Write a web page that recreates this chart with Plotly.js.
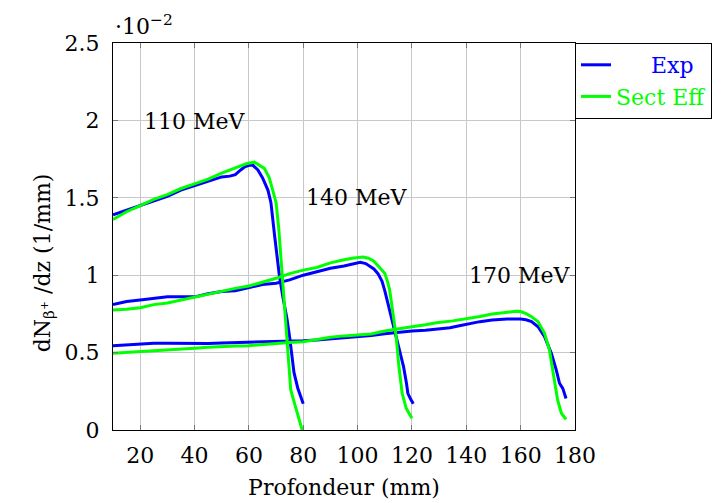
<!DOCTYPE html>
<html>
<head>
<meta charset="utf-8">
<script src="https://cdn.plot.ly/plotly-3.0.1.min.js"></script>
<style>html,body{margin:0;padding:0;background:#fff;}#chart{width:724px;height:503px;}</style>
</head>
<body>
<div id="chart"></div>
<script>
// Values in units of 1e-2 (1/mm), depth in mm
const exp110X = [10,15,20,25,30,35,40,45,50,53,55,57,58.5,60,61.5,63.3,65,67,68.1,69.5,71.2,72.5,74,75,75.6,76.6,78,80];
const exp110Y = [1.39,1.42,1.45,1.48,1.51,1.55,1.58,1.61,1.635,1.64,1.65,1.68,1.70,1.71,1.71,1.68,1.63,1.55,1.47,1.25,1.0,0.86,0.72,0.6,0.5,0.37,0.27,0.17];
const sim110X = [10,15,20,25,30,35,40,45,50,53,56,59,62,64,65.7,67.5,69,70,71,72,73,74,74.6,75.4,76.5,78,79.6];
const sim110Y = [1.36,1.41,1.45,1.49,1.52,1.56,1.59,1.62,1.66,1.68,1.70,1.72,1.73,1.71,1.69,1.63,1.53,1.47,1.30,1.07,0.80,0.58,0.42,0.26,0.19,0.10,0.0];

const exp140X = [10,15,20,25,30,35,40,45,50,55,60,65,70,75,80,85,90,95,100,101,103,104.5,106,107.5,109,110,111.8,113.6,115.5,116.9,118,118.5,119.5,120.5];
const exp140Y = [0.81,0.83,0.84,0.85,0.86,0.86,0.86,0.88,0.895,0.90,0.92,0.94,0.948,0.97,1.0,1.02,1.045,1.06,1.08,1.083,1.075,1.06,1.04,1.01,0.96,0.90,0.775,0.635,0.517,0.41,0.30,0.237,0.20,0.17];
const sim140X = [10,15,20,25,30,35,40,45,50,55,60,65,70,75,80,85,90,95,98,102,104,106,108,110,111,111.8,113,114.2,115.2,116.4,117.9,120];
const sim140Y = [0.775,0.78,0.79,0.81,0.82,0.84,0.857,0.88,0.90,0.915,0.93,0.955,0.98,1.01,1.033,1.05,1.08,1.10,1.11,1.118,1.11,1.09,1.05,1.012,0.96,0.904,0.756,0.603,0.41,0.237,0.14,0.076];

const exp170X = [10,15,20,25,30,35,40,45,50,55,60,65,70,75,80,85,90,95,100,105,110,115,120,125,130,134,137,140,145,149.5,155,160,162,164,166.4,168.8,171.3,173.1,174.3,175.5,176.7];
const exp170Y = [0.545,0.55,0.556,0.56,0.56,0.558,0.556,0.558,0.562,0.564,0.565,0.568,0.57,0.573,0.577,0.582,0.588,0.595,0.603,0.61,0.622,0.632,0.64,0.645,0.652,0.66,0.672,0.683,0.70,0.711,0.717,0.717,0.712,0.70,0.667,0.603,0.495,0.388,0.302,0.269,0.204];
const sim170X = [10,15,20,25,30,35,40,45,50,55,60,65,70,75,80,85,90,95,100,105,110,115,120,125,129,135,140,145,149.5,155,158,160,162,164,166.4,168.8,170.6,172.2,173.6,175,176.7];
const sim170Y = [0.495,0.50,0.506,0.512,0.518,0.523,0.528,0.535,0.54,0.542,0.545,0.553,0.56,0.565,0.57,0.585,0.599,0.608,0.614,0.62,0.64,0.655,0.667,0.68,0.693,0.705,0.717,0.733,0.749,0.762,0.767,0.765,0.752,0.732,0.70,0.625,0.517,0.344,0.194,0.108,0.069];

const energyLabels = ["110 MeV","140 MeV","170 MeV"];
const energyLabelX = [40,99.7,159.6];
const energyLabelY = [1.99,1.5,1.0];

const xTicks = [20,40,60,80,100,120,140,160,180];
const yTicks = [0,0.5,1,1.5,2,2.5];

const BLUE = "#0000ff", GREEN = "#00ff00";
const FONT = "DejaVu Serif";

function tr(x, y, color, name, show) {
  return {x: x, y: y, type: "scatter", mode: "lines",
    line: {color: color, width: 3}, name: name, legendgroup: name, showlegend: show, hoverinfo: "skip"};
}
const expName = '<span style="color:#0000ff">\u00a0\u00a0\u00a0\u00a0\u00a0Exp</span>';
const simName = '<span style="color:#00ff00">Sect Eff</span>';

const data = [
  tr(exp110X, exp110Y, BLUE, expName, true),
  tr(exp140X, exp140Y, BLUE, expName, false),
  tr(exp170X, exp170Y, BLUE, expName, false),
  tr(sim110X, sim110Y, GREEN, simName, true),
  tr(sim140X, sim140Y, GREEN, simName, false),
  tr(sim170X, sim170Y, GREEN, simName, false)
];

const annotations = energyLabels.map((t, i) => ({
  x: energyLabelX[i], y: energyLabelY[i], xref: "x", yref: "y", text: t,
  showarrow: false, font: {family: FONT, size: 22, color: "#000"}
}));
annotations.push({x: 0, y: 1, xref: "paper", yref: "paper", xanchor: "left", yanchor: "bottom",
  text: "\u00b710<sup>\u22122</sup>", showarrow: false, yshift: 2,
  font: {family: FONT, size: 22, color: "#000"}});
annotations.push({x: -0.184, y: 0.432, xref: "paper", yref: "paper", textangle: -90,
  text: "dN<sub>\u03b2<sup>+</sup></sub> /dz (1/mm)", showarrow: false,
  font: {family: FONT, size: 22, color: "#000"}});

const axisCommon = {
  showgrid: true, gridcolor: "#c8c8c8", gridwidth: 1,
  showline: true, linecolor: "#000", linewidth: 1, mirror: "ticks",
  ticks: "inside", ticklen: 5, tickcolor: "#777", zeroline: false,
  tickfont: {family: FONT, size: 22, color: "#000"}
};

const layout = {
  width: 724, height: 503,
  margin: {l: 113, r: 144, t: 43, b: 73, pad: 0},
  paper_bgcolor: "#fff", plot_bgcolor: "#fff",
  font: {family: FONT, size: 22, color: "#000"},
  xaxis: Object.assign({}, axisCommon, {range: [10, 180], tickvals: xTicks, ticktext: xTicks.map(String),
    ticklabelstandoff: 6,
    title: {text: "Profondeur (mm)", font: {family: FONT, size: 22, color: "#000"}, standoff: 12}}),
  yaxis: Object.assign({}, axisCommon, {range: [0, 2.5], tickvals: yTicks, ticktext: yTicks.map(String),
    ticklabelstandoff: 8}),
  legend: {x: 1, y: 1, xanchor: "left", yanchor: "top", bgcolor: "#fff",
    bordercolor: "#000", borderwidth: 1, font: {family: FONT, size: 22}, tracegroupgap: 0},
  annotations: annotations,
  showlegend: true
};

Plotly.newPlot("chart", data, layout, {displayModeBar: false, staticPlot: true});
</script>
</body>
</html>
